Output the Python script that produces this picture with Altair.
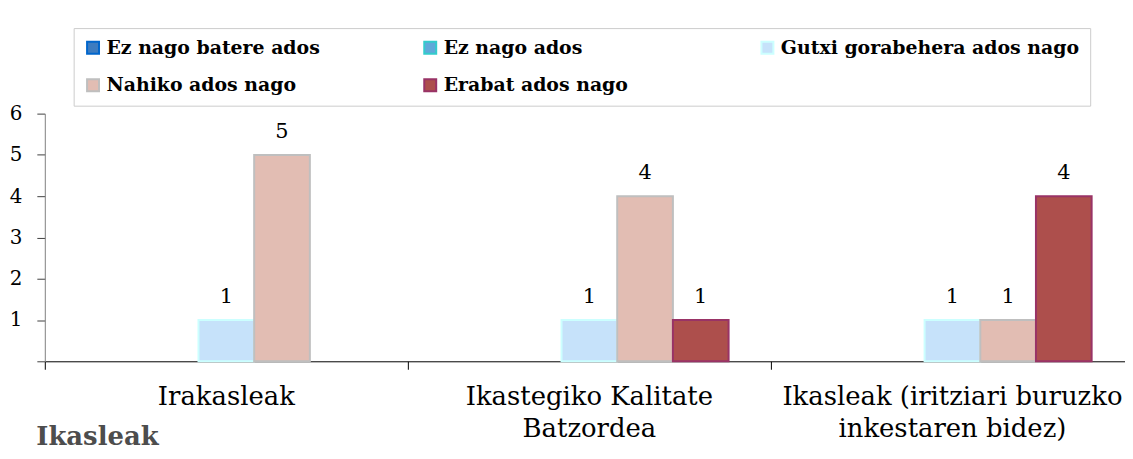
import altair as alt
import pandas as pd

categories = [
    "Irakasleak",
    "Ikastegiko Kalitate\nBatzordea",
    "Ikasleak (iritziari buruzko\ninkestaren bidez)",
]
series = [
    "Ez nago batere ados",
    "Ez nago ados",
    "Gutxi gorabehera ados nago",
    "Nahiko ados nago",
    "Erabat ados nago",
]
values_ez_batere = [None, None, None]
values_ez = [None, None, None]
values_gutxi = [1, 1, 1]
values_nahiko = [5, 4, 1]
values_erabat = [None, 1, 4]

fill_colors = ["#3D7CC0", "#5FA9D9", "#C6E2FA", "#E2BDB3", "#AD4F4C"]
stroke_colors = ["#0066CC", "#33CCCC", "#CCFFFF", "#BFBFBF", "#993366"]

all_values = [values_ez_batere, values_ez, values_gutxi, values_nahiko, values_erabat]
rows = []
for s, vals in zip(series, all_values):
    for c, v in zip(categories, vals):
        if v is not None:
            rows.append({"category": c, "series": s, "value": v})
df = pd.DataFrame(rows)

FONT = "DejaVu Serif"

legend = alt.Legend(
    title=None, orient="none", legendX=29, legendY=-86, direction="horizontal",
    columns=3, gridAlign="all", columnPadding=14, rowPadding=17,
    symbolType="square", symbolSize=144, symbolStrokeWidth=2,
    labelFont=FONT, labelFontWeight="bold", labelFontSize=19, labelColor="black",
    labelLimit=500, labelOffset=4, strokeColor="#CCCCCC", padding=10, fillColor="white",
)

base = alt.Chart(df).encode(
    x=alt.X(
        "category:N", sort=categories,
        scale=alt.Scale(domain=categories, paddingInner=0, paddingOuter=0, rangeMax=1095),
        axis=alt.Axis(
            title="Ikasleak", titleX=-9, titleY=84, titleAlign="left", titleAnchor="start",
            titleBaseline="alphabetic", titleFont=FONT, titleFontWeight="bold",
            titleFontSize=26, titleColor="#4D4D4D",
            labelExpr="split(datum.label, '\\n')", labelAngle=0, labelFontSize=26,
            labelLineHeight=33, labelPadding=14, labelFont=FONT, labelColor="black",
            labelLimit=500, tickSize=8, bandPosition=0, domainColor="black",
            tickColor="black", grid=False,
        ),
    ),
    xOffset=alt.XOffset(
        "series:N", sort=series,
        scale=alt.Scale(domain=series, paddingInner=0, paddingOuter=0.76),
    ),
    y=alt.Y(
        "value:Q",
        scale=alt.Scale(domain=[0, 6], nice=False),
        axis=alt.Axis(
            title=None, values=[0, 1, 2, 3, 4, 5, 6], grid=False,
            labelExpr="datum.value == 0 ? '' : datum.label",
            tickSize=8, labelPadding=15, labelFontSize=20, labelFont=FONT,
            labelColor="black", domainColor="#808080", tickColor="#404040",
        ),
    ),
)

bars = base.mark_bar(strokeWidth=2).encode(
    fill=alt.Fill("series:N", scale=alt.Scale(domain=series, range=fill_colors), legend=legend),
    stroke=alt.Stroke("series:N", scale=alt.Scale(domain=series, range=stroke_colors), legend=legend),
)

labels = base.mark_text(dy=-17, fontSize=21, font=FONT, color="black", baseline="alphabetic").encode(
    text=alt.Text("value:Q")
)

chart = alt.layer(bars, labels).properties(
    width=1086, height=249,
    autosize=alt.AutoSizeParams(type="none"),
    padding={"left": 37, "top": 105, "right": 0, "bottom": 89},
).configure_view(stroke=None)

chart.save("out.html", embed_options={"renderer": "svg", "actions": False})
